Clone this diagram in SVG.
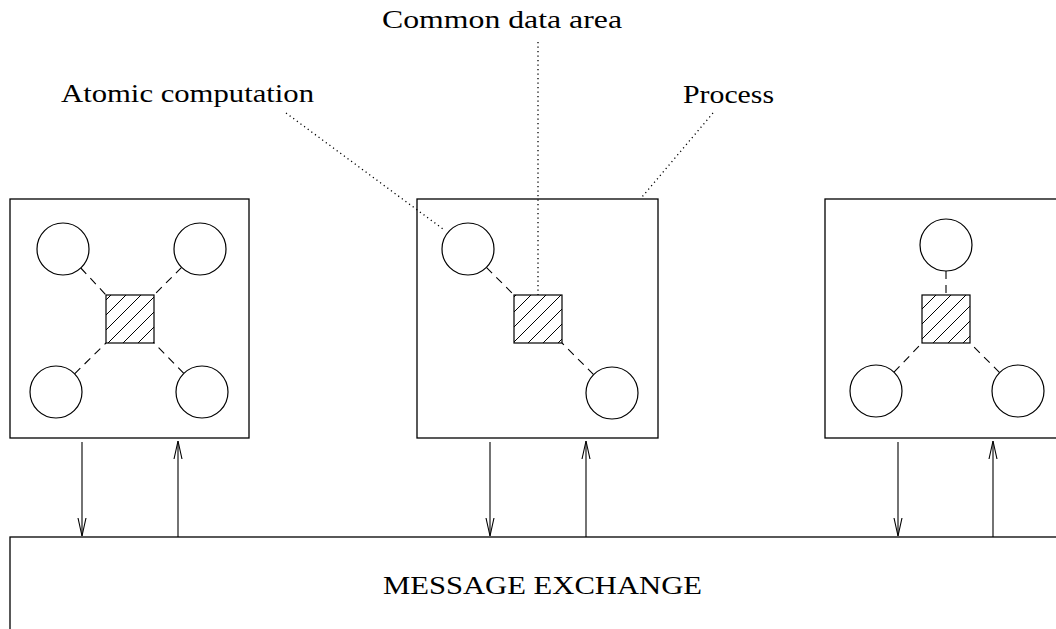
<svg xmlns="http://www.w3.org/2000/svg" width="1056" height="629" viewBox="0 0 1056 629">
<style>
.box{fill:#fff;stroke:#000;stroke-width:1.3}
.circ{fill:#fff;stroke:#000;stroke-width:1.2}
.sq{fill:url(#hatch);stroke:#000;stroke-width:1.2}
.dash{stroke:#000;stroke-width:1.1;stroke-dasharray:8,6;fill:none}
.dot{stroke:#000;stroke-width:1.3;stroke-dasharray:1.2,3.3;fill:none}
.arr{stroke:#000;stroke-width:1.1;fill:none;marker-end:url(#ah)}
.lbl{font-family:"Liberation Serif","DejaVu Serif",serif;font-size:26px;fill:#000}
</style>
<defs>
<pattern id="hatch" patternUnits="userSpaceOnUse" width="15" height="15" x="1" y="0">
<path d="M0,15 L15,0 M-3,3 L3,-3 M12,18 L18,12" stroke="#000" stroke-width="1"/>
</pattern>
<marker id="ah" markerUnits="userSpaceOnUse" markerWidth="20" markerHeight="12" viewBox="0 -6 20 12" refX="18" refY="0" orient="auto">
<path d="M0,-4 L18,0 L0,4" fill="none" stroke="#000" stroke-width="1.1"/>
</marker>
</defs>

<g id="labels">
<text class="lbl" x="382" y="28" textLength="240" lengthAdjust="spacingAndGlyphs">Common data area</text>
<text class="lbl" x="61" y="102" textLength="253" lengthAdjust="spacingAndGlyphs">Atomic computation</text>
<text class="lbl" x="683" y="103" textLength="91" lengthAdjust="spacingAndGlyphs">Process</text>
</g>

<g id="process1">
<rect class="box" x="10" y="199" width="239" height="239"/>
<line class="dash" x1="80.8" y1="268" x2="106" y2="295"/>
<line class="dash" x1="181.6" y1="267.4" x2="154" y2="295"/>
<line class="dash" x1="74.6" y1="373.8" x2="106" y2="343"/>
<line class="dash" x1="183.8" y1="373.4" x2="154" y2="343"/>
<circle class="circ" cx="63" cy="249" r="26"/>
<circle class="circ" cx="200" cy="249" r="26"/>
<circle class="circ" cx="56" cy="392" r="26"/>
<circle class="circ" cx="202" cy="392" r="26"/>
<rect class="sq" x="106" y="295" width="48" height="48"/>
</g>

<g id="process2">
<rect class="box" x="417" y="199" width="241" height="239"/>
<line class="dash" x1="486.4" y1="267.4" x2="514" y2="295"/>
<line class="dash" x1="593.6" y1="374.6" x2="562" y2="343"/>
<circle class="circ" cx="468" cy="249" r="26"/>
<circle class="circ" cx="612" cy="393" r="26"/>
<rect class="sq" x="514" y="295" width="48" height="48"/>
</g>

<g id="process3">
<rect class="box" x="825" y="199" width="240" height="239"/>
<line class="dash" x1="946" y1="271" x2="946" y2="295"/>
<line class="dash" x1="894" y1="372.2" x2="922" y2="343"/>
<line class="dash" x1="999.6" y1="372.6" x2="970" y2="343"/>
<circle class="circ" cx="946" cy="245" r="26"/>
<circle class="circ" cx="876" cy="391" r="26"/>
<circle class="circ" cx="1018" cy="391" r="26"/>
<rect class="sq" x="922" y="295" width="48" height="48"/>
</g>

<g id="message-exchange">
<rect class="box" x="10" y="537" width="1060" height="110"/>
<text class="lbl" x="383" y="594" textLength="319" lengthAdjust="spacingAndGlyphs">MESSAGE EXCHANGE</text>
</g>

<g id="connectors">
<line class="dot" x1="286" y1="113" x2="443" y2="229"/>
<line class="dot" x1="538" y1="42" x2="538" y2="295"/>
<line class="dot" x1="713" y1="113" x2="642" y2="197"/>
<line class="arr" x1="82" y1="442" x2="82" y2="536"/>
<line class="arr" x1="178" y1="537" x2="178" y2="441"/>
<line class="arr" x1="490" y1="442" x2="490" y2="536"/>
<line class="arr" x1="586" y1="537" x2="586" y2="441"/>
<line class="arr" x1="898" y1="442" x2="898" y2="536"/>
<line class="arr" x1="993" y1="537" x2="993" y2="441"/>
</g>
</svg>
